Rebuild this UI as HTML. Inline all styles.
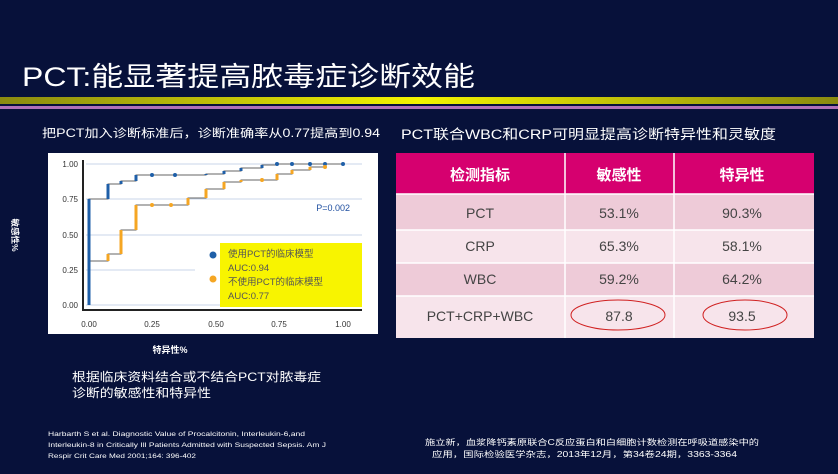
<!DOCTYPE html>
<html><head><meta charset="utf-8"><style>
body{margin:0;width:838px;height:474px;background:#07113a;overflow:hidden;font-family:"Liberation Sans","Noto Sans CJK SC",sans-serif;}
</style></head><body>
<svg width="838" height="474" xmlns="http://www.w3.org/2000/svg" style="position:absolute;left:0;top:0" font-family="Liberation Sans,Noto Sans CJK SC,sans-serif">
<rect width="838" height="474" fill="#07113a"/>
<text x="22" y="86" fill="#fff" font-size="27" textLength="453" lengthAdjust="spacingAndGlyphs">PCT:能显著提高脓毒症诊断效能</text>
<defs><linearGradient id="g" x1="0" x2="1"><stop offset="0" stop-color="#8a8a10"/><stop offset="0.5" stop-color="#f4f400"/><stop offset="1" stop-color="#8a8a10"/></linearGradient></defs>
<rect x="0" y="97" width="838" height="7" fill="url(#g)"/>
<rect x="0" y="106" width="838" height="3" fill="#b070b8"/>
<text x="42" y="137" fill="#fff" font-size="11.5" textLength="338" lengthAdjust="spacingAndGlyphs">把PCT加入诊断标准后，诊断准确率从0.77提高到0.94</text>
<text x="401" y="139" fill="#fff" font-size="13.5" textLength="375" lengthAdjust="spacingAndGlyphs">PCT联合WBC和CRP可明显提高诊断特异性和灵敏度</text>
<!-- chart -->
<rect x="48" y="153" width="330" height="181" fill="#fff"/>
<g stroke="#c8d6ea" stroke-width="1">
<line x1="86" y1="164" x2="362" y2="164"/><line x1="86" y1="199" x2="362" y2="199"/><line x1="86" y1="235" x2="362" y2="235"/><line x1="86" y1="270" x2="195" y2="270"/><line x1="86" y1="305" x2="362" y2="305"/>
</g>
<line x1="83" y1="160" x2="83" y2="311" stroke="#222" stroke-width="2"/>
<line x1="82" y1="310" x2="362" y2="310" stroke="#222" stroke-width="2"/>
<g font-size="8" fill="#333" text-anchor="end">
<text x="78" y="167">1.00</text><text x="78" y="202">0.75</text><text x="78" y="238">0.50</text><text x="78" y="273">0.25</text><text x="78" y="308">0.00</text>
</g>
<g font-size="8" fill="#333" text-anchor="middle">
<text x="89" y="327">0.00</text><text x="152" y="327">0.25</text><text x="216" y="327">0.50</text><text x="279" y="327">0.75</text><text x="343" y="327">1.00</text>
</g>
<polyline fill="none" stroke="#666" stroke-width="1" points="89,305 89,199 108,199 108,184 121,184 121,181 136,181 136,175 206,175 206,174 224,174 224,171 241,171 241,168 262,168 262,165 277,165 277,164 343,164"/>
<polyline fill="none" stroke="#666" stroke-width="1" points="89,305 89,261 108,261 108,254 121,254 121,230 136,230 136,205 188,205 188,198 206,198 206,189 224,189 224,182 241,182 241,180 277,180 277,174 292,174 292,170 310,170 310,167 325,167"/>
<g stroke="#f5a623" stroke-width="3">
<line x1="89" y1="305" x2="89" y2="261"/><line x1="108" y1="261" x2="108" y2="254"/><line x1="121" y1="254" x2="121" y2="230"/><line x1="136" y1="230" x2="136" y2="205"/><line x1="188" y1="205" x2="188" y2="198"/><line x1="206" y1="198" x2="206" y2="189"/><line x1="224" y1="189" x2="224" y2="182"/><line x1="241" y1="182" x2="241" y2="180"/><line x1="277" y1="180" x2="277" y2="174"/><line x1="292" y1="174" x2="292" y2="170"/><line x1="310" y1="170" x2="310" y2="167"/>
</g>
<g stroke="#1f5fa8" stroke-width="3">
<line x1="89" y1="305" x2="89" y2="199"/><line x1="108" y1="199" x2="108" y2="184"/><line x1="121" y1="184" x2="121" y2="181"/><line x1="136" y1="181" x2="136" y2="175"/><line x1="206" y1="175" x2="206" y2="174"/><line x1="224" y1="174" x2="224" y2="171"/><line x1="241" y1="171" x2="241" y2="168"/><line x1="262" y1="168" x2="262" y2="165"/>
</g>
<g fill="#1f5fa8"><circle cx="152" cy="175" r="2"/><circle cx="175" cy="175" r="2"/><circle cx="277" cy="164" r="2"/><circle cx="292" cy="164" r="2"/><circle cx="310" cy="164" r="2"/><circle cx="325" cy="164" r="2"/><circle cx="343" cy="164" r="2"/></g>
<g fill="#f5a623"><circle cx="152" cy="205" r="2"/><circle cx="171" cy="205" r="2"/><circle cx="262" cy="180" r="2"/><circle cx="325" cy="167" r="2"/></g>
<text x="350" y="211" font-size="9" fill="#1f4fa0" text-anchor="end">P=0.002</text>
<rect x="220" y="243" width="142" height="64" fill="#f8f400"/>
<circle cx="213" cy="255" r="3.5" fill="#1f5fa8"/><circle cx="213" cy="279" r="3.5" fill="#f5a623"/>
<g font-size="9.5" fill="#555"><text x="228" y="257">使用PCT的临床模型</text><text x="228" y="271">AUC:0.94</text><text x="228" y="285">不使用PCT的临床模型</text><text x="228" y="299">AUC:0.77</text></g>
<text x="12" y="235" font-size="8.5" fill="#fff" transform="rotate(90 12 235)" text-anchor="middle" font-weight="bold">敏感性%</text>
<text x="170" y="353" font-size="9" fill="#fff" text-anchor="middle" font-weight="bold">特异性%</text>
<text x="72" y="381" fill="#fff" font-size="12" textLength="249" lengthAdjust="spacingAndGlyphs">根据临床资料结合或不结合PCT对脓毒症</text>
<text x="72" y="397" fill="#fff" font-size="12" textLength="139" lengthAdjust="spacingAndGlyphs">诊断的敏感性和特异性</text>
<g font-size="6.5" fill="#fff"><text x="48" y="436" textLength="257" lengthAdjust="spacingAndGlyphs">Harbarth S et al. Diagnostic Value of Procalcitonin, Interleukin-6,and</text><text x="48" y="447" textLength="278" lengthAdjust="spacingAndGlyphs">Interleukin-8 in Critically Ill Patients Admitted with Suspected Sepsis. Am J</text><text x="48" y="458" textLength="148" lengthAdjust="spacingAndGlyphs">Respir Crit Care Med 2001;164: 396-402</text></g>
<g font-size="8" fill="#fff"><text x="425" y="445" textLength="334" lengthAdjust="spacingAndGlyphs">施立新，血浆降钙素原联合C反应蛋白和白细胞计数检测在呼吸道感染中的</text><text x="432" y="457" textLength="305" lengthAdjust="spacingAndGlyphs">应用，国际检验医学杂志，2013年12月，第34卷24期，3363-3364</text></g>
<!-- table -->
<rect x="396" y="153" width="418" height="41" fill="#d6006f"/>
<rect x="396" y="194" width="418" height="36" fill="#eecbd8"/>
<rect x="396" y="230" width="418" height="33" fill="#f7e4eb"/>
<rect x="396" y="263" width="418" height="33" fill="#eecbd8"/>
<rect x="396" y="296" width="418" height="42" fill="#f7e4eb"/>
<g stroke="#fff" stroke-width="1.5"><line x1="565" y1="153" x2="565" y2="338"/><line x1="674" y1="153" x2="674" y2="338"/><line x1="396" y1="194" x2="814" y2="194"/><line x1="396" y1="230" x2="814" y2="230"/><line x1="396" y1="263" x2="814" y2="263"/><line x1="396" y1="296" x2="814" y2="296"/></g>
<g font-size="15" fill="#fff" font-weight="bold" text-anchor="middle"><text x="480" y="180">检测指标</text><text x="619" y="180">敏感性</text><text x="742" y="180">特异性</text></g>
<g font-size="14" fill="#444" text-anchor="middle">
<text x="480" y="218">PCT</text><text x="619" y="218">53.1%</text><text x="742" y="218">90.3%</text>
<text x="480" y="251">CRP</text><text x="619" y="251">65.3%</text><text x="742" y="251">58.1%</text>
<text x="480" y="284">WBC</text><text x="619" y="284">59.2%</text><text x="742" y="284">64.2%</text>
<text x="480" y="321">PCT+CRP+WBC</text><text x="619" y="321">87.8</text><text x="742" y="321">93.5</text>
</g>
<ellipse cx="618" cy="315" rx="47" ry="15" fill="none" stroke="#d02020" stroke-width="1"/>
<ellipse cx="745" cy="315" rx="42" ry="15" fill="none" stroke="#d02020" stroke-width="1"/>
</svg>
</body></html>
